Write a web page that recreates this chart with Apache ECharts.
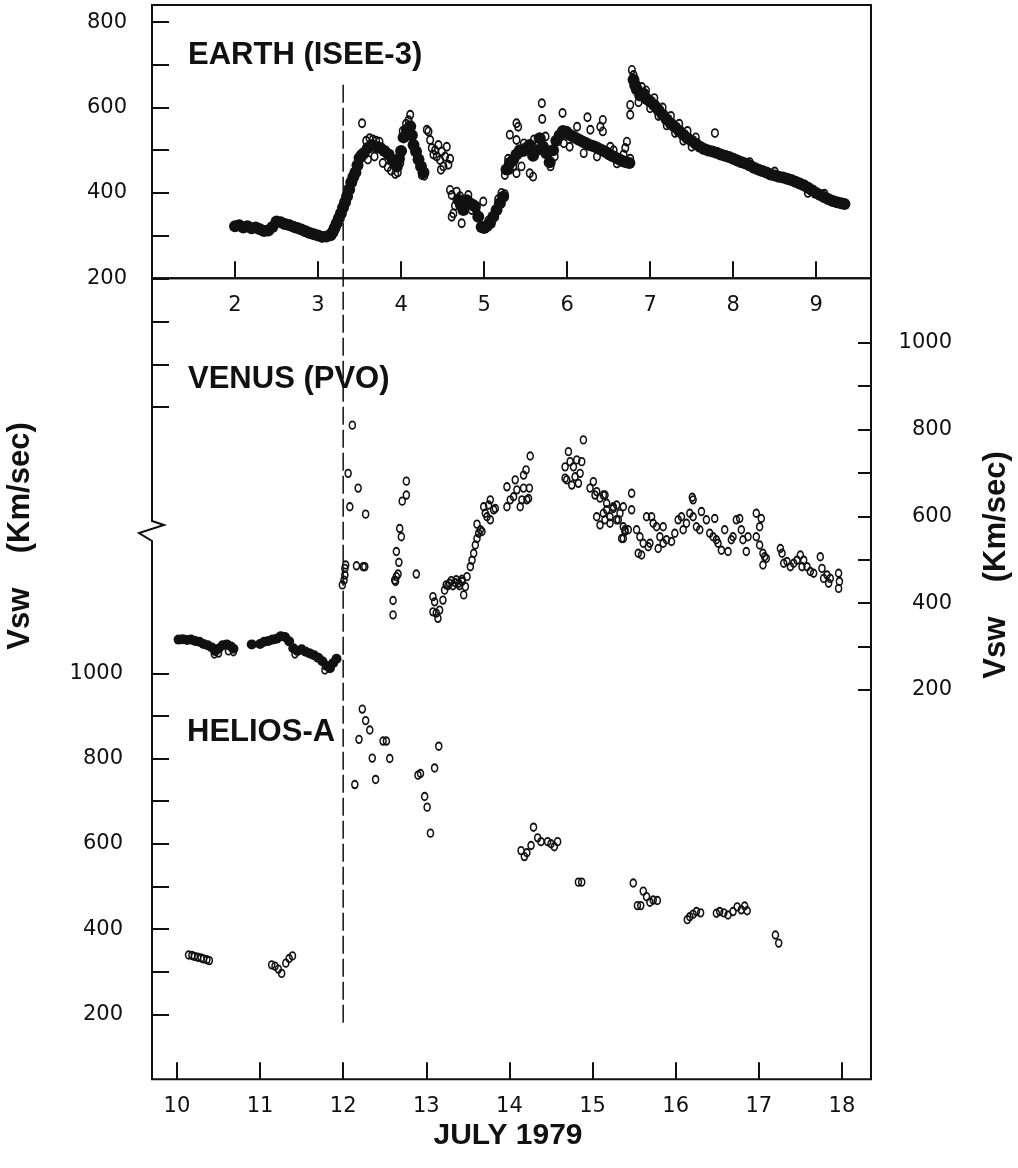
<!DOCTYPE html>
<html>
<head>
<meta charset="utf-8">
<title>Vsw July 1979</title>
<script src="https://cdn.jsdelivr.net/npm/echarts@6/dist/echarts.min.js"></script>
<style>
  html, body { margin: 0; padding: 0; background: #fff; }
  #chart { width: 1018px; height: 1168px; }
</style>
</head>
<body>
<div id="chart"></div>
<script>
// points are [day of July 1979, Vsw km/s]

// Earth (ISEE-3): dense core of the trace and the loose points around it
const earthBand = [
  [2.00,322],[2.05,324],[2.10,319],[2.15,322],[2.20,317],[2.25,319],[2.30,315],[2.35,311],[2.40,312],[2.45,320],
  [2.50,333],[2.55,331],[2.60,327],[2.65,325],[2.70,321],[2.75,318],[2.80,314],[2.85,310],[2.90,306],[2.95,303],
  [3.00,300],[3.05,297],[3.10,298],[3.15,301],[3.175,308],[3.20,318],[3.225,329],[3.25,340],[3.275,352],[3.30,365],
  [3.325,378],[3.35,392],[3.375,408],[3.40,425],[3.425,437],[3.45,448],[3.475,465],[3.50,482],[3.525,488],
  [3.55,493],[3.60,505],[3.65,512],[3.70,508],[3.75,505],[3.80,498],[3.85,490],[3.90,475],[3.95,462],
  [3.975,480],[4.00,498],[4.03,530],[4.07,548],[4.11,556],[4.13,535],[4.15,512],[4.18,497],[4.21,478],[4.24,462],[4.27,448],
  [4.69,384],[4.72,372],[4.75,360],[4.79,383],[4.83,376],[4.86,372],[4.89,368],[4.93,344],[4.97,320],[5.00,318],[5.03,322],[5.07,329],
  [5.11,344],[5.15,360],[5.19,376],[5.23,391],
  [5.27,455],[5.31,470],[5.35,477],[5.39,490],[5.43,500],[5.47,498],[5.51,505],[5.55,512],[5.59,487],[5.63,500],
  [5.67,528],[5.71,508],[5.75,493],[5.79,472],[5.83,500],[5.87,522],[5.91,535],[5.95,545],[5.99,543],[6.03,536],
  [6.07,532],[6.11,528],[6.15,524],[6.19,520],[6.23,516],[6.27,512],[6.31,510],[6.35,507],[6.39,503],[6.43,499],
  [6.47,495],[6.51,490],[6.55,486],[6.59,482],[6.63,478],[6.67,474],[6.71,472],[6.75,470],
  [6.80,665],[6.82,652],[6.84,642],[6.88,628],[6.92,632],[6.96,620],[7.00,614],[7.05,605],[7.10,594],[7.15,583],[7.20,572],
  [7.25,562],[7.30,554],[7.35,545],[7.40,536],[7.45,528],[7.50,522],[7.55,515],[7.60,508],[7.65,503],[7.70,499],
  [7.75,497],[7.80,494],[7.85,490],[7.90,487],[7.95,484],[8.00,480],[8.05,476],[8.10,472],[8.15,469],[8.20,464],
  [8.25,459],[8.30,455],[8.35,451],[8.40,448],[8.45,443],[8.50,441],[8.55,438],[8.60,436],[8.65,433],[8.70,430],
  [8.75,426],[8.80,422],[8.85,418],[8.90,412],[8.95,406],[9.00,400],[9.05,395],[9.10,390],[9.15,385],[9.20,381],
  [9.25,378],[9.30,376],[9.34,374]
];
const earthOpen = [
  [3.53,563],[3.58,522],[3.62,528],[3.66,525],[3.70,522],[3.74,520],[3.60,478],[3.68,485],[3.78,470],[3.84,460],
  [3.88,452],[3.93,444],[3.96,448],[3.99,470],[4.02,545],[4.06,562],[4.09,570],[4.11,583],[4.13,532],[4.16,505],
  [4.20,488],[4.23,470],[4.25,442],[4.28,440],[4.31,548],[4.33,544],[4.35,524],[4.37,505],[4.39,490],[4.41,500],
  [4.43,485],[4.45,512],[4.47,477],[4.49,497],[4.51,462],[4.53,485],[4.55,508],[4.57,466],[4.59,480],[4.48,454],
  [4.59,407],[4.61,395],[4.61,344],[4.63,352],[4.65,370],[4.67,403],[4.71,392],[4.73,329],[4.77,372],[4.81,395],
  [4.85,360],[4.91,355],[4.99,380],[5.05,335],[5.13,355],[5.17,385],[5.21,400],[5.25,397],
  [5.25,442],[5.29,480],[5.31,536],[5.31,454],[5.35,462],[5.39,563],[5.41,555],[5.39,446],[5.45,462],[5.39,524],
  [5.48,516],[5.55,446],[5.59,438],[5.60,525],[5.695,610],[5.70,573],[5.74,532],[5.80,462],[5.85,485],[5.945,587],
  [5.96,516],[6.03,508],[6.12,555],[6.20,493],[6.245,577],[6.28,548],[6.36,485],[6.40,555],[6.43,571],[6.43,544],
  [6.52,508],[6.56,500],[6.60,469],[6.64,477],[6.68,490],[6.70,505],[6.72,520],[6.76,480],
  [6.76,606],[6.76,583],[6.78,688],[6.80,676],[6.82,655],[6.86,612],[6.90,648],[6.95,640],[7.00,598],[7.05,622],
  [7.10,580],[7.15,600],[7.20,558],[7.25,580],[7.30,540],[7.35,562],[7.40,522],[7.45,545],[7.50,508],[7.55,530],
  [7.78,540],[8.20,472],[8.50,450],[8.90,400],[9.10,398]
];

// Venus (PVO), right-hand scale
const venusBand = [
  [10.02,316],[10.07,317],[10.12,315],[10.17,316],[10.22,313],[10.27,311],[10.32,306],[10.37,303],[10.42,298],[10.46,290],
  [10.50,295],[10.55,303],[10.60,305],[10.65,300],[10.68,295],[10.90,305],[11.00,306],[11.05,311],[11.10,313],[11.15,316],
  [11.20,318],[11.25,324],[11.30,322],[11.35,312],[11.40,296],[11.45,290],[11.50,294],[11.55,288],[11.60,284],[11.65,280],
  [11.70,274],[11.75,266],[11.80,256],[11.84,250],[11.88,262],[11.92,272]
];
const venusOpen = [
  [10.45,283],[10.50,285],[10.62,290],[10.68,288],[11.42,283],[11.78,246],
  [11.99,442],[12.01,453],[12.02,465],[12.02,480],[12.03,488],
  [12.11,810],[12.06,699],[12.18,665],[12.08,622],[12.27,605],[12.16,486],[12.24,484],[12.26,484],
  [12.76,681],[12.76,649],[12.71,635],[12.68,572],[12.70,553],[12.64,519],[12.67,494],
  [12.64,461],[12.63,450],[12.66,467],[12.62,453],[12.60,406],[12.60,373],[12.88,467],
  [13.08,415],[13.08,380],[13.10,403],[13.12,377],[13.14,365],[13.16,384],[13.20,407],[13.22,430],[13.24,442],[13.26,440],
  [13.28,446],[13.30,452],[13.32,440],[13.35,447],[13.36,454],[13.39,446],[13.40,440],[13.43,450],[13.43,455],[13.45,419],
  [13.47,438],[13.49,461],[13.53,484],[13.55,499],[13.57,515],[13.59,534],[13.61,549],[13.63,561],[13.65,569],[13.67,565],
  [13.61,582],[13.69,622],[13.71,607],[13.73,599],[13.77,638],[13.81,615],[13.77,592],[13.83,618],[13.75,626],
  [13.97,622],[14.01,638],[13.97,668],[14.05,645],[14.07,684],[14.09,661],[14.13,622],[14.15,638],[14.17,665],[14.17,695],
  [14.20,707],[14.21,638],[14.24,665],[14.25,739],[14.23,641],
  [14.71,749],[14.67,714],[14.69,684],[14.73,726],[14.77,714],[14.79,691],[14.81,730],[14.83,676],[14.87,726],[14.89,776],
  [14.85,699],[14.75,672],[14.67,688],[14.97,665],[15.01,680],[15.03,649],[15.09,642],[15.15,649],[15.05,657],
  [15.05,599],[15.09,580],[15.13,607],[15.17,615],[15.21,599],[15.25,622],[15.29,592],[15.33,607],[15.37,576],[15.39,565],
  [15.35,549],[15.43,569],
  [15.13,649],[15.17,630],[15.25,618],[15.29,626],[15.31,592],[15.15,592],[15.21,584],[15.37,622],[15.47,653],[15.47,615],
  [15.39,569],[15.37,549],[15.53,569],[15.57,553],[15.55,515],[15.59,511],[15.61,538],[15.65,599],[15.67,530],[15.69,538],
  [15.71,599],[15.73,584],[15.77,576],[15.79,526],[15.81,553],[15.85,576],[15.85,538],[15.89,546],[15.95,542],[15.99,561],
  [16.03,592],[16.07,599],[16.09,569],[16.13,584],[16.17,607],[16.21,638],[16.20,644],[16.21,599],[16.25,576],[16.29,569],
  [16.31,611],[16.37,592],[16.41,561],[16.47,595],[16.45,553],[16.49,546],[16.51,538],[16.55,522],[16.59,569],[16.63,519],
  [16.67,546],[16.69,553],[16.73,592],[16.77,595],[16.79,569],[16.81,546],[16.85,519],[16.87,553],
  [16.97,607],[17.03,595],[17.01,576],[16.97,553],[17.01,534],[17.05,515],[17.07,507],[17.05,488],[17.09,503],
  [17.26,526],[17.28,515],[17.30,492],[17.34,496],[17.38,484],[17.42,492],[17.46,499],[17.50,511],[17.54,499],[17.52,484],
  [17.58,484],[17.62,473],[17.66,469],[17.74,507],[17.76,480],[17.78,457],[17.82,465],[17.84,446],[17.86,457],
  [17.96,469],[17.97,450],[17.96,434]
];

// Helios-A, left-hand lower scale
const heliosOpen = [
  [10.14,339],[10.18,338],[10.21,336],[10.25,334],[10.29,332],[10.32,330],[10.36,328],[10.39,326],
  [11.14,316],[11.18,313],[11.22,306],[11.26,296],[11.31,320],[11.35,331],[11.39,337],
  [12.14,739],[12.19,845],[12.23,916],[12.27,889],[12.32,867],[12.35,801],[12.39,751],[12.48,841],[12.52,841],[12.56,800],
  [12.90,761],[12.93,765],[12.98,711],[13.01,686],[13.05,625],[13.10,778],[13.15,829],
  [14.14,584],[14.18,570],[14.21,579],[14.26,596],[14.29,639],[14.34,614],[14.38,605],[14.46,605],[14.50,600],[14.54,593],
  [14.58,605],[14.83,510],[14.87,510],
  [15.49,508],[15.54,455],[15.58,455],[15.61,489],[15.65,476],[15.69,463],[15.73,468],[15.78,467],
  [16.14,422],[16.17,429],[16.21,435],[16.25,441],[16.30,438],[16.49,437],[16.53,441],[16.58,438],[16.63,433],[16.69,441],
  [16.74,452],[16.79,445],[16.83,454],[16.86,443],
  [17.20,386],[17.24,367]
];

// dashed marker at July 12 (upper end reaches into the Earth panel)
const shockLine = [[12, 180], [12, 2382]];

// ticks and labels
const topDays = [2, 3, 4, 5, 6, 7, 8, 9];
const bottomDays = [10, 11, 12, 13, 14, 15, 16, 17, 18];
const earthTicks = [200, 300, 400, 500, 600, 700, 800];
const earthLabels = [200, 400, 600, 800];
const heliosTicks = [200, 300, 400, 500, 600, 700, 800, 900, 1000];
const breakTicks = [1625, 1725, 1825]; // unlabelled ticks above the axis break
const heliosLabels = [200, 400, 600, 800, 1000];
const venusTicks = [200, 300, 400, 500, 600, 700, 800, 900, 1000];
const venusLabels = [200, 400, 600, 800, 1000];

const ink = '#111';
const numFont = { fontFamily: 'DejaVu Sans', fontSize: 21, color: ink, formatter: v => String(v) };
const boldFont = 'bold 31px "Liberation Sans"';

const chart = echarts.init(document.getElementById('chart'));

function valAxis(extra, ticks, labels, tickLen, labelOpt) {
  return Object.assign({
    type: 'value',
    axisLine: { show: false, onZero: false },
    splitLine: { show: false },
    axisTick: { show: true, inside: true, length: tickLen, lineStyle: { color: ink, width: 2 }, customValues: ticks },
    axisLabel: Object.assign({}, numFont, { customValues: labels }, labelOpt)
  }, extra);
}

const filled = { color: ink, opacity: 1 };
const hollow = { color: 'rgba(0,0,0,0)', borderColor: ink, borderWidth: 1.7, opacity: 1 };

chart.setOption({
  animation: false,
  backgroundColor: '#fff',
  grid: [
    { left: 152, top: 5, width: 719, height: 273.3, show: true, borderColor: ink, borderWidth: 2, outerBoundsMode: 'none' },
    { left: 152, top: 278.3, width: 719, height: 801, show: true, borderColor: ink, borderWidth: 2, outerBoundsMode: 'none' }
  ],
  xAxis: [
    valAxis({ gridIndex: 0, min: 1, max: 9.66, position: 'bottom' }, topDays, topDays, 17, { margin: 17 }),
    valAxis({ gridIndex: 1, min: 9.7, max: 18.35, position: 'bottom' }, bottomDays, bottomDays, 17, { margin: 17 })
  ],
  yAxis: [
    valAxis({ gridIndex: 0, min: 200, max: 840, position: 'left' }, earthTicks, earthLabels, 17, { margin: 25 }),
    valAxis({ gridIndex: 1, min: 47.5, max: 1926.7, position: 'left' }, heliosTicks.concat(breakTicks), heliosLabels, 17, { margin: 29 }),
    valAxis({ gridIndex: 1, min: -696.8, max: 1148.3, position: 'right' }, venusTicks, venusLabels, 13, { margin: 81, align: 'right' })
  ],
  series: [
    { type: 'scatter', xAxisIndex: 0, yAxisIndex: 0, data: earthBand, symbolSize: 12, itemStyle: filled, silent: true },
    { type: 'scatter', xAxisIndex: 0, yAxisIndex: 0, data: earthOpen, symbolSize: [6.5, 8], itemStyle: hollow, silent: true },
    { type: 'scatter', xAxisIndex: 1, yAxisIndex: 2, data: venusBand, symbolSize: 10, itemStyle: filled, silent: true },
    { type: 'scatter', xAxisIndex: 1, yAxisIndex: 2, data: venusOpen, symbolSize: [6, 7.5], itemStyle: hollow, silent: true },
    { type: 'scatter', xAxisIndex: 1, yAxisIndex: 1, data: heliosOpen, symbolSize: [6, 7.5], itemStyle: hollow, silent: true },
    {
      type: 'line', xAxisIndex: 1, yAxisIndex: 1, data: shockLine, symbol: 'none', clip: false, silent: true,
      lineStyle: { color: ink, width: 1.5, type: [18, 5] }
    }
  ],
  graphic: [
    { type: 'text', x: 188, y: 55, style: { text: 'EARTH (ISEE-3)', font: boldFont, fill: ink, textVerticalAlign: 'middle', verticalAlign: 'middle' } },
    { type: 'text', x: 188, y: 379, style: { text: 'VENUS (PVO)', font: boldFont, fill: ink, textVerticalAlign: 'middle', verticalAlign: 'middle' } },
    { type: 'text', x: 187, y: 732, style: { text: 'HELIOS-A', font: boldFont, fill: ink, textVerticalAlign: 'middle', verticalAlign: 'middle' } },
    { type: 'text', x: 20, y: 536, rotation: Math.PI / 2,
      style: { text: 'Vsw    (Km/sec)', font: boldFont, fill: ink, textAlign: 'center', align: 'center', textVerticalAlign: 'middle', verticalAlign: 'middle' } },
    { type: 'text', x: 996, y: 565, rotation: Math.PI / 2,
      style: { text: 'Vsw    (Km/sec)', font: boldFont, fill: ink, textAlign: 'center', align: 'center', textVerticalAlign: 'middle', verticalAlign: 'middle' } },
    { type: 'text', x: 508, y: 1136,
      style: { text: 'JULY 1979', font: 'bold 30px "Liberation Sans"', fill: ink, textAlign: 'center', align: 'center', textVerticalAlign: 'middle', verticalAlign: 'middle' } },
    // break mark on the left frame
    { type: 'rect', z: 50, shape: { x: 145, y: 520, width: 14, height: 23 }, style: { fill: '#fff' } },
    { type: 'polyline', z: 51, shape: { points: [[152, 517], [152, 521], [164, 525], [139, 533], [152, 541], [152, 545]] },
      style: { stroke: ink, lineWidth: 2, fill: null } }
  ]
});
</script>
</body>
</html>
